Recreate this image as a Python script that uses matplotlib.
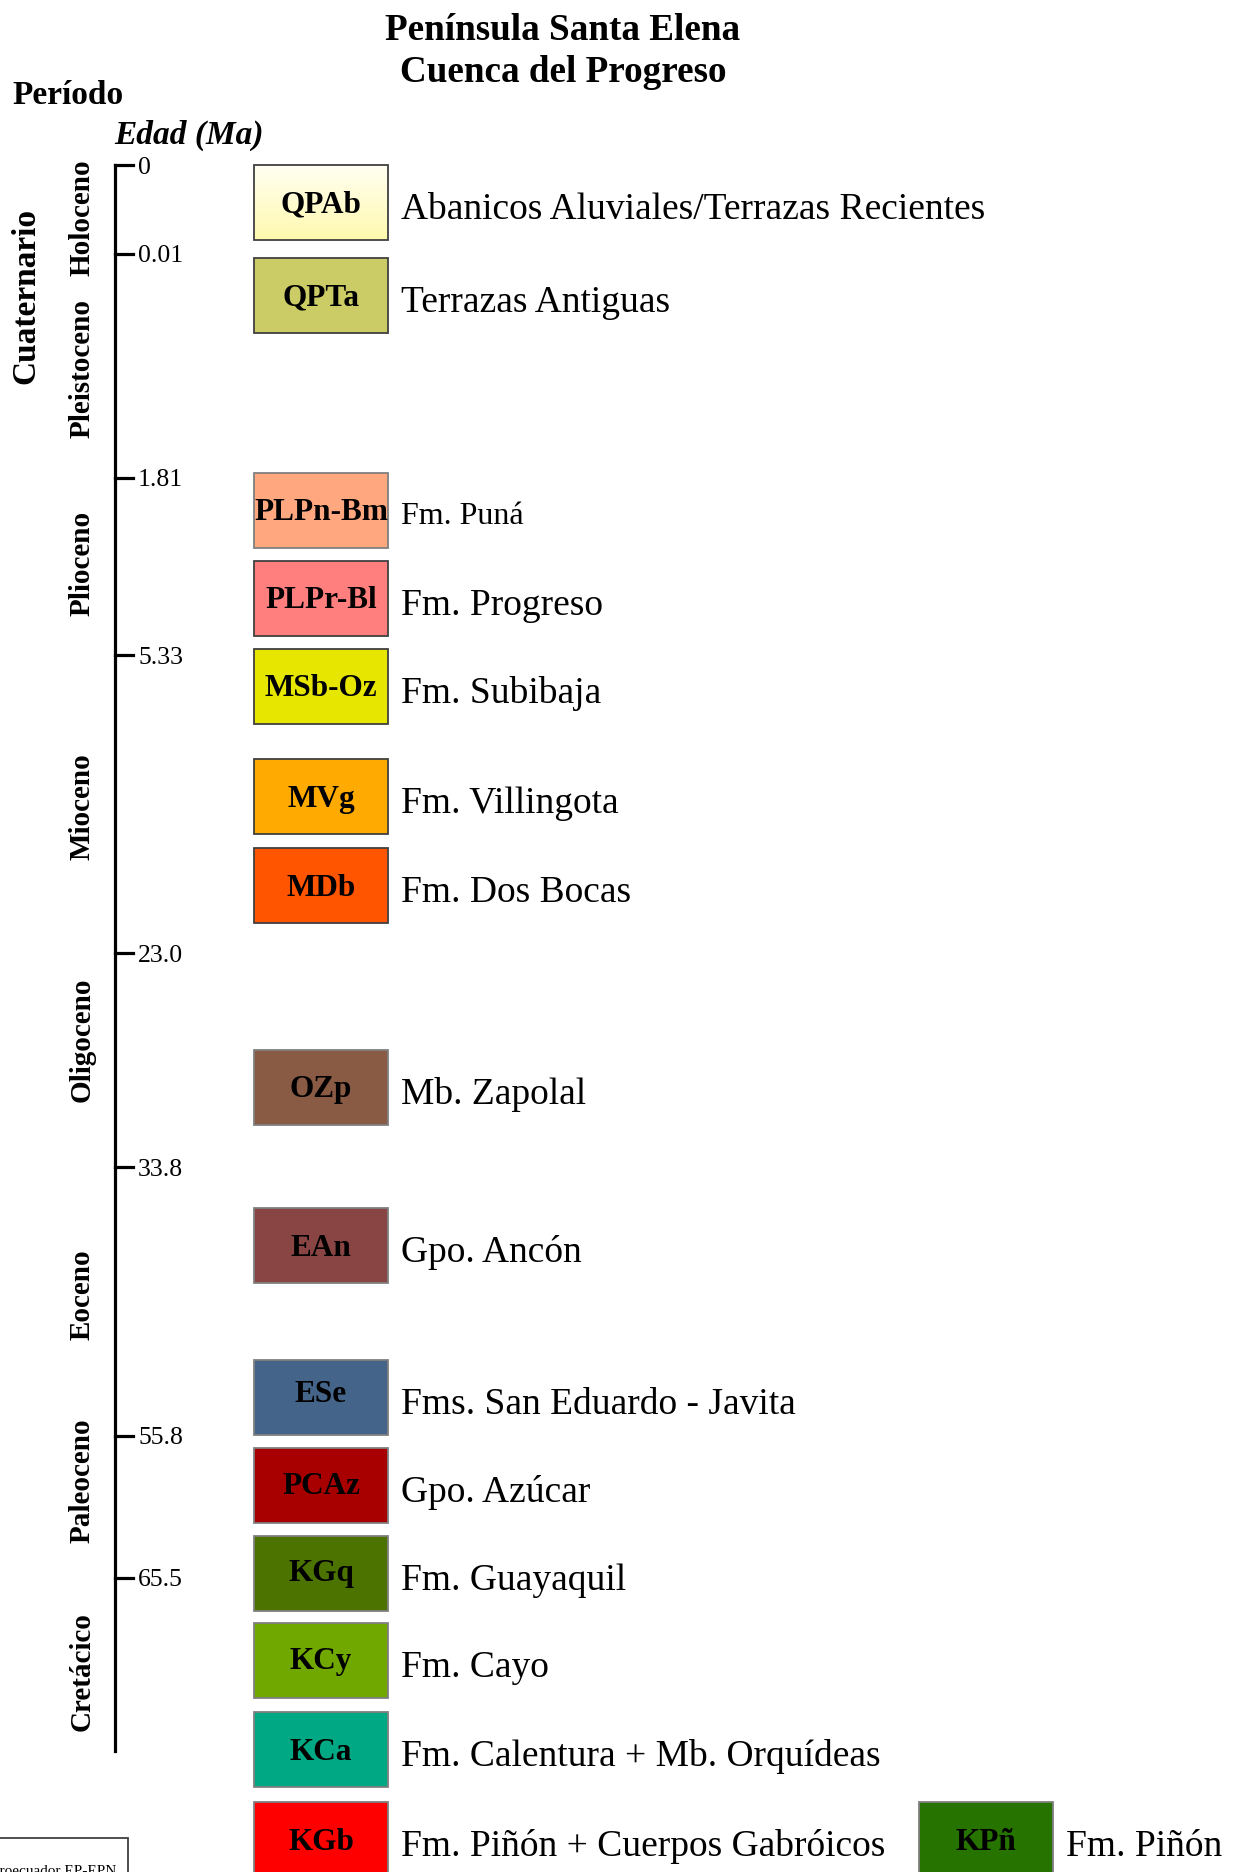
import numpy as np
import matplotlib
matplotlib.use('Agg')
import matplotlib.pyplot as plt
from matplotlib.patches import Rectangle
from matplotlib.colors import LinearSegmentedColormap

# Chart content
title_lines = ['Península Santa Elena', 'Cuenca del Progreso']
tick_ages = ['0', '0.01', '1.81', '5.33', '23.0', '33.8', '55.8', '65.5']
epochs = ['Holoceno', 'Pleistoceno', 'Plioceno', 'Mioceno', 'Oligoceno',
          'Eoceno', 'Paleoceno', 'Cretácico']
codes = ['QPAb', 'QPTa', 'PLPn-Bm', 'PLPr-Bl', 'MSb-Oz', 'MVg', 'MDb', 'OZp',
         'EAn', 'ESe', 'PCAz', 'KGq', 'KCy', 'KCa', 'KGb']
names = ['Abanicos Aluviales/Terrazas Recientes', 'Terrazas Antiguas',
         'Fm. Puná', 'Fm. Progreso', 'Fm. Subibaja', 'Fm. Villingota',
         'Fm. Dos Bocas', 'Mb. Zapolal', 'Gpo. Ancón',
         'Fms. San Eduardo - Javita', 'Gpo. Azúcar', 'Fm. Guayaquil',
         'Fm. Cayo', 'Fm. Calentura + Mb. Orquídeas',
         'Fm. Piñón + Cuerpos Gabróicos']
colors = ['#FFFDC8', '#CCCC66', '#FFA77F', '#FF7F7F', '#E6E600', '#FFAA00',
          '#FF5500', '#895A44', '#894444', '#446589', '#A80000', '#4C7300',
          '#70A800', '#00A884', '#FF0000']
extra_code, extra_name, extra_color = 'KPñ', 'Fm. Piñón', '#267300'

# Layout (pixel coordinates of the figure)
tick_y = [165, 254, 478, 655, 953, 1167, 1436, 1578]
axis_x, axis_bottom = 115, 1751
epoch_y = [218, 369, 563, 807, 1040, 1295, 1481, 1672]
box_top = [165, 258, 473, 561, 649, 759, 848, 1050, 1208, 1360, 1448, 1536,
           1623, 1712, 1802]
code_dy = [-1, -1, -1, -1, -1, -1, -1, -1, -1, -7, -2, -3, -2, -1, -1]
edge_dark = [True, True, False, True, True, True, True, False, False, False,
             False, False, False, False, False]
box_x, box_w, box_h = 254, 134, 75
extra_x = 919

W, H = 1238, 1872
fig = plt.figure(figsize=(W / 100, H / 100), dpi=100)
ax = fig.add_axes([0, 0, 1, 1])
ax.set_xlim(0, W)
ax.set_ylim(H, 0)
ax.axis('off')

serif = 'Liberation Serif'

# titles
ax.text(563, 26, title_lines[0], ha='center', va='center_baseline',
        fontsize=26.7, fontweight='bold', family=serif)
ax.text(563, 68, title_lines[1], ha='center', va='center_baseline',
        fontsize=26.7, fontweight='bold', family=serif)
ax.text(12, 92, 'Período', ha='left', va='center_baseline',
        fontsize=24, fontweight='bold', family=serif)
ax.text(114, 132, 'Edad (Ma)', ha='left', va='center_baseline',
        fontsize=24, fontweight='bold', style='italic', family=serif)

# time axis
ax.plot([axis_x, axis_x], [tick_y[0], axis_bottom], color='black', lw=2.3,
        solid_capstyle='projecting')
for y, lab in zip(tick_y, tick_ages):
    ax.plot([axis_x, 133], [y, y], color='black', lw=2.3,
            solid_capstyle='projecting')
    ax.text(138, y, lab, ha='left', va='center_baseline', fontsize=18.5,
            family=serif)

# period / epoch labels
ax.text(26, 296, 'Cuaternario', rotation=90, ha='center', va='center',
        fontsize=24, fontweight='bold', family=serif)
for y, ep in zip(epoch_y, epochs):
    ax.text(82, y, ep, rotation=90, ha='center', va='center',
            fontsize=21, fontweight='bold', family=serif)

# formation boxes
grad = LinearSegmentedColormap.from_list('qpab', ['#FFFFF2', '#FFF9AE'])
for i, (code, name, col) in enumerate(zip(codes, names, colors)):
    top = box_top[i]
    ec = '#404040' if edge_dark[i] else '#808080'
    if code == 'QPAb':
        ax.imshow(np.linspace(0, 1, 100).reshape(-1, 1), cmap=grad,
                  extent=(box_x, box_x + box_w, top + box_h, top),
                  aspect='auto', zorder=1)
        ax.add_patch(Rectangle((box_x, top), box_w, box_h, fc='none',
                               ec=ec, lw=1.3, zorder=2))
    else:
        ax.add_patch(Rectangle((box_x, top), box_w, box_h, fc=col,
                               ec=ec, lw=1.3, zorder=2))
    ax.text(box_x + box_w / 2, top + box_h / 2 + code_dy[i], code,
            ha='center', va='center_baseline', fontsize=22.5,
            fontweight='bold', family=serif, zorder=3)
    fs = 23 if name == 'Fm. Puná' else 27
    ax.text(401, top + box_h / 2 + 3, name, ha='left', va='center_baseline',
            fontsize=fs, family=serif)

# extra box at the bottom right
top = box_top[-1]
ax.add_patch(Rectangle((extra_x, top), box_w, box_h, fc=extra_color,
                       ec='#808080', lw=1.3, zorder=2))
ax.text(extra_x + box_w / 2, top + box_h / 2 - 1, extra_code, ha='center',
        va='center_baseline', fontsize=22.5, fontweight='bold', family=serif,
        zorder=3)
ax.text(1066, top + box_h / 2 + 3, extra_name, ha='left',
        va='center_baseline', fontsize=27, family=serif)

# source box, bottom left (cut by the page edge)
ax.add_patch(Rectangle((-5, 1838), 133, 60, fc='white', ec='#404040', lw=1.3,
                       clip_on=True))
ax.text(116, 1875, 'Petroecuador EP-EPN', ha='right', va='baseline',
        fontsize=11, family=serif)

fig.savefig('out.png', dpi=100)
